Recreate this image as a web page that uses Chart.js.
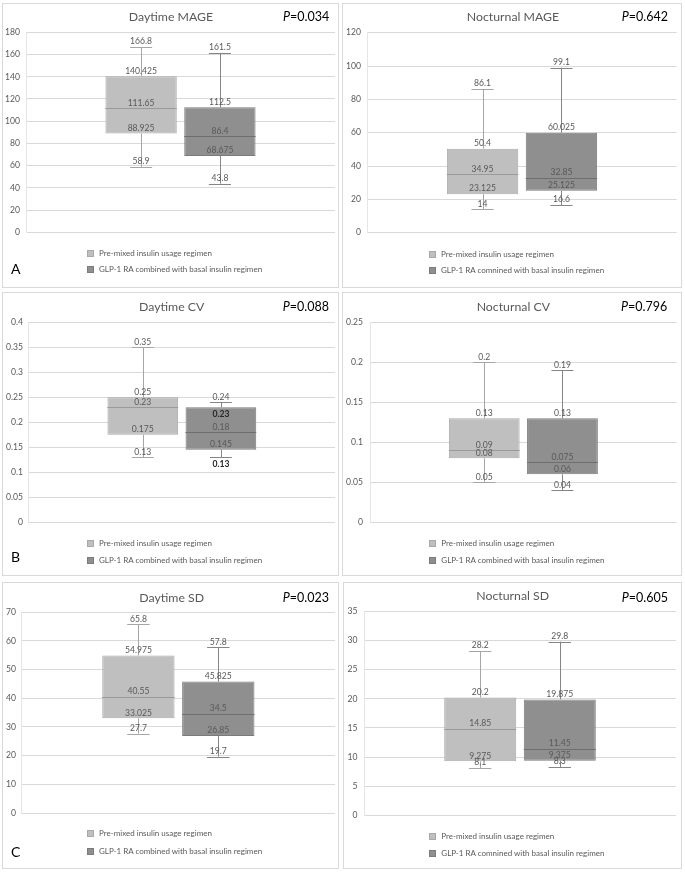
<!DOCTYPE html>
<html><head><meta charset="utf-8">
<script src="https://cdn.jsdelivr.net/npm/chart.js@4.4.1/dist/chart.umd.min.js"></script>
<style>
body{margin:0;background:#fff;width:685px;height:872px;position:relative;overflow:hidden;font-family:Lato,"Noto Sans",sans-serif;}
.panel{position:absolute;border:1px solid #d9d9d9;box-sizing:border-box;}
canvas{position:absolute;}
.title{position:absolute;font-size:12.3px;color:#595959;transform:translate(-50%,-50%);white-space:nowrap;}
.pval{position:absolute;font-size:12.5px;color:#000;white-space:nowrap;transform:translateY(-50%);}
.letter{position:absolute;font-size:14px;color:#000;transform:translateY(-50%);}
.leg{position:absolute;font-size:8px;color:#595959;white-space:nowrap;transform:translateY(-50%);line-height:10px;}
.leg i{display:inline-block;width:7px;height:7px;margin-right:5px;vertical-align:-1px;box-sizing:border-box;}
</style>
</head><body>
<script>
// ---- data ----
const seriesNames = ["Pre-mixed insulin usage regimen", "GLP-1 RA combined with basal insulin regimen"];
const seriesNamesAlt = ["Pre-mixed insulin usage regimen", "GLP-1 RA comnined with basal insulin regimen"];
const chartTitles = ["Daytime MAGE", "Nocturnal MAGE", "Daytime CV", "Nocturnal CV", "Daytime SD", "Nocturnal SD"];
const pValues = ["0.034", "0.642", "0.088", "0.796", "0.023", "0.605"];
const panelLetters = ["A", "", "B", "", "C", ""];
// [min, Q1, median, Q3, max]
const daytimeMAGE_pre = [58.9, 88.925, 111.65, 140.425, 166.8];
const daytimeMAGE_glp = [43.8, 68.675, 86.4, 112.5, 161.5];
const nocturnalMAGE_pre = [14, 23.125, 34.95, 50.4, 86.1];
const nocturnalMAGE_glp = [16.6, 25.125, 32.85, 60.025, 99.1];
const daytimeCV_pre = [0.13, 0.175, 0.23, 0.25, 0.35];
const daytimeCV_glp = [0.13, 0.145, 0.18, 0.23, 0.24];
const nocturnalCV_pre = [0.05, 0.08, 0.09, 0.13, 0.2];
const nocturnalCV_glp = [0.04, 0.06, 0.075, 0.13, 0.19];
const daytimeSD_pre = [27.7, 33.025, 40.55, 54.975, 65.8];
const daytimeSD_glp = [19.7, 26.85, 34.5, 45.825, 57.8];
const nocturnalSD_pre = [8.1, 9.275, 14.85, 20.2, 28.2];
const nocturnalSD_glp = [8.3, 9.375, 11.45, 19.875, 29.8];
const yMaxValues = [180, 120, 0.4, 0.25, 70, 35];
const yStepValues = [20, 20, 0.05, 0.05, 10, 5];

const statsPre = [daytimeMAGE_pre, nocturnalMAGE_pre, daytimeCV_pre, nocturnalCV_pre, daytimeSD_pre, nocturnalSD_pre];
const statsGlp = [daytimeMAGE_glp, nocturnalMAGE_glp, daytimeCV_glp, nocturnalCV_glp, daytimeSD_glp, nocturnalSD_glp];

// ---- layout / style (page pixels) ----
const panels = [
  {x:2, y:3, w:337, h:285},
  {x:342, y:3, w:340, h:285},
  {x:2, y:292, w:337, h:284},
  {x:342, y:292, w:340, h:284},
  {x:2, y:582, w:337, h:287},
  {x:343, y:582, w:339, h:287}
];
const areas = [
  {l:26, r:335, t:32.3, b:232.3, lab:20},
  {l:367.3, r:676.7, t:32.7, b:232.7, lab:361},
  {l:28.7, r:335, t:322.3, b:522.3, lab:23},
  {l:370, r:676.7, t:322.3, b:522.3, lab:363},
  {l:21.7, r:335, t:612.3, b:813, lab:16},
  {l:364, r:676, t:611.3, b:815.3, lab:357.5}
];
const titlePos = [[171,16],[513,16],[171.7,306.3],[513.3,306],[171.7,597],[512.7,595]];
const pPos = [[283,16],[621.7,16],[282.7,306],[621,306],[282.7,597],[621.7,597.3]];
const letterPos = [[11,268],null,[11,555.7],null,[11,850.7],null];
const legendPos = [[87,253,269],[429,253.7,270],[87,543.3,560],[429.3,543.3,560],[87,833.3,850.7],[429.3,835.7,853.3]];
// labels drawn below their mark and in bold: [panel, series, statIndex]
const boldBelow = [[2,1,3],[2,1,0]];

const styles = [
  {fill:'#bfbfbf', border:'#a9a9a9', median:'#9a9a9a', whisker:'#a6a6a6'},
  {fill:'#8f8f8f', border:'#7b7b7b', median:'#6e6e6e', whisker:'#858585'}
];

function fmt(v){ return String(Number(v.toFixed(4))); }

const boxPlugin = {
  id:'boxWhisker',
  afterDatasetsDraw(chart, args, opts){
    const ctx = chart.ctx, ys = chart.scales.y;
    const idx = opts.panel;
    const all = [statsPre[idx], statsGlp[idx]];
    all.forEach((st, si) => {
      const bar = chart.getDatasetMeta(si).data[0];
      const cx = bar.x, bw = bar.width;
      const sty = styles[si];
      const p = st.map(v => ys.getPixelForValue(v));
      ctx.save();
      ctx.strokeStyle = sty.whisker; ctx.lineWidth = 1;
      ctx.beginPath();
      ctx.moveTo(Math.round(cx)+0.5, p[3]); ctx.lineTo(Math.round(cx)+0.5, p[4]);
      ctx.moveTo(Math.round(cx)+0.5, p[1]); ctx.lineTo(Math.round(cx)+0.5, p[0]);
      const cw = bw*0.31;
      ctx.moveTo(cx-cw/2, Math.round(p[4])+0.5); ctx.lineTo(cx+cw/2, Math.round(p[4])+0.5);
      ctx.moveTo(cx-cw/2, Math.round(p[0])+0.5); ctx.lineTo(cx+cw/2, Math.round(p[0])+0.5);
      ctx.stroke();
      ctx.strokeStyle = sty.median;
      ctx.beginPath();
      ctx.moveTo(cx-bw/2, Math.round(p[2])+0.5); ctx.lineTo(cx+bw/2, Math.round(p[2])+0.5);
      ctx.stroke();
      ctx.textAlign = 'center'; ctx.textBaseline = 'middle';
      st.forEach((v, k) => {
        const isBold = boldBelow.some(b => b[0]===idx && b[1]===si && b[2]===k);
        ctx.font = (isBold ? 'bold ' : '') + '8.6px Lato, "Noto Sans", sans-serif';
        ctx.fillStyle = isBold ? '#262626' : '#595959';
        ctx.fillText(fmt(v), cx, isBold ? p[k]+6.5 : p[k]-5.5);
      });
      ctx.restore();
    });
  }
};

for (let i = 0; i < 6; i++) {
  const P = panels[i], A = areas[i];
  const div = document.createElement('div');
  div.className = 'panel';
  Object.assign(div.style, {left:P.x+'px', top:P.y+'px', width:P.w+'px', height:P.h+'px'});
  document.body.appendChild(div);

  const cv = document.createElement('canvas');
  cv.width = P.w; cv.height = P.h;
  Object.assign(cv.style, {left:P.x+'px', top:P.y+'px', width:P.w+'px', height:P.h+'px'});
  document.body.appendChild(cv);

  const axisW = A.l - P.x;
  const tickPad = A.l - A.lab;
  new Chart(cv, {
    type:'bar',
    data:{
      labels:[''],
      datasets:[0,1].map(si => ({
        label: seriesNames[si],
        data:[[ (si?statsGlp:statsPre)[i][1], (si?statsGlp:statsPre)[i][3] ]],
        backgroundColor: styles[si].fill,
        borderColor: styles[si].border,
        borderWidth: 1,
        borderSkipped: false,
        categoryPercentage: 0.51,
        barPercentage: 0.905
      }))
    },
    options:{
      responsive:false, animation:false, devicePixelRatio: window.devicePixelRatio || 1,
      layout:{padding:{left: 0, right: P.x + P.w - A.r, top: A.t - P.y, bottom: P.y + P.h - A.b}},
      plugins:{legend:{display:false}, title:{display:false}, tooltip:{enabled:false}, boxWhisker:{panel:i}},
      scales:{
        x:{display:false, offset:true},
        y:{
          min:0, max:yMaxValues[i],
          ticks:{stepSize:yStepValues[i], padding:tickPad, color:'#595959', font:{family:'Lato, "Noto Sans", sans-serif', size:8.6}, callback:(v)=>fmt(v)},
          grid:{color:'#d9d9d9', drawTicks:false},
          border:{display:true, color:'#e6e6e6'},
          afterFit:(s)=>{ s.width = axisW; }
        }
      }
    },
    plugins:[boxPlugin]
  });

  const t = document.createElement('div');
  t.className = 'title'; t.textContent = chartTitles[i];
  t.style.left = titlePos[i][0]+'px'; t.style.top = titlePos[i][1]+'px';
  document.body.appendChild(t);

  const pv = document.createElement('div');
  pv.className = 'pval'; pv.innerHTML = '<i>P</i>=' + pValues[i];
  pv.style.left = pPos[i][0]+'px'; pv.style.top = pPos[i][1]+'px';
  document.body.appendChild(pv);

  if (letterPos[i]) {
    const L = document.createElement('div');
    L.className = 'letter'; L.textContent = panelLetters[i];
    L.style.left = letterPos[i][0]+'px'; L.style.top = letterPos[i][1]+'px';
    document.body.appendChild(L);
  }
  const names = (i === 1 || i === 5) ? seriesNamesAlt : seriesNames;
  [0,1].forEach(si => {
    const lg = document.createElement('div');
    lg.className = 'leg';
    lg.innerHTML = '<i style="background:'+styles[si].fill+';border:1px solid '+styles[si].border+'"></i>';
    lg.appendChild(document.createTextNode(names[si]));
    lg.style.left = legendPos[i][0]+'px'; lg.style.top = legendPos[i][1+si]+'px';
    document.body.appendChild(lg);
  });
}
</script>
</body></html>
